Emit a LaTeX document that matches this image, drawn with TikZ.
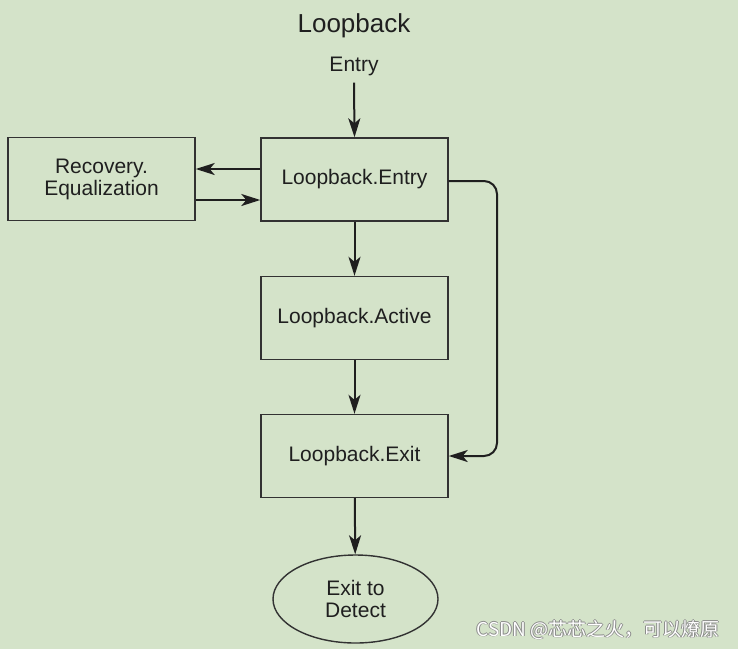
\documentclass[tikz,border=0pt]{standalone}
\usepackage{fontspec}
\setmainfont{Liberation Sans}
\newfontfamily\cjk{Noto Sans CJK SC}
\usetikzlibrary{arrows.meta,shapes.geometric}
\definecolor{bgc}{RGB}{212,227,201}
\definecolor{edge}{RGB}{50,50,50}
\tikzset{
  statebox/.style={draw=edge, line width=1.4pt, minimum width=187pt, minimum height=83pt, inner sep=0pt, align=center, font=\fontsize{21}{22}\selectfont, text=black!88},
  flow/.style={draw=black!88, line width=2pt, -{Stealth[length=19pt,width=12pt,inset=5pt]}},
}
\begin{document}
\begin{tikzpicture}[x=1pt,y=-1pt]
\fill[bgc] (0,0) rectangle (738,649);
\useasboundingbox (0,0) rectangle (738,649);
\node[font=\fontsize{26}{28}\selectfont, text=black!88] (title) at (354,26) {Loopback};
\node[font=\fontsize{21}{23}\selectfont, text=black!88, inner sep=2pt] (entry) at (354,66) {Entry};
\node[statebox] (rec) at (101.5,179) {Recovery.\\Equalization};
\node[statebox] (lbe) at (354.5,179.5) {Loopback.Entry};
\node[statebox] (lba) at (354.5,318) {Loopback.Active};
\node[statebox] (lbx) at (354.5,456) {Loopback.Exit};
\node[draw=edge, line width=1.4pt, ellipse, minimum width=165pt, minimum height=88pt, inner sep=0pt, align=center, font=\fontsize{21}{22}\selectfont, text=black!88] (det) at (355.5,599) {Exit to\\Detect};
\coordinate (c1) at (497,181);
\coordinate (c2) at (497,456);
\draw[flow] (entry.south) ++(0,5) -- (lbe.north);
\draw[flow] (lbe.west |- 0,169) -- (rec.east |- 0,169);
\draw[flow] (rec.east |- 0,200) -- (lbe.west |- 0,200);
\draw[flow] (lbe) -- (lba);
\draw[flow] (lba) -- (lbx);
\draw[flow] (lbx) -- (det);
\draw[flow, rounded corners=13pt] (lbe.east |- c1) -- (c1) -- (c2) -- (lbx.east);
\begin{scope}[font=\cjk\fontsize{19}{21}\selectfont]
\foreach \dx/\dy in {0.6/0,-0.6/0,0/0.6,0/-0.6}
  \node[text=black!45, anchor=east] at ([xshift=\dx pt, yshift=\dy pt]723,630) {CSDN @芯芯之火，可以燎原};
\node[text=white, anchor=east] (wm) at (723,630) {CSDN @芯芯之火，可以燎原};
\end{scope}
\end{tikzpicture}
\end{document}
